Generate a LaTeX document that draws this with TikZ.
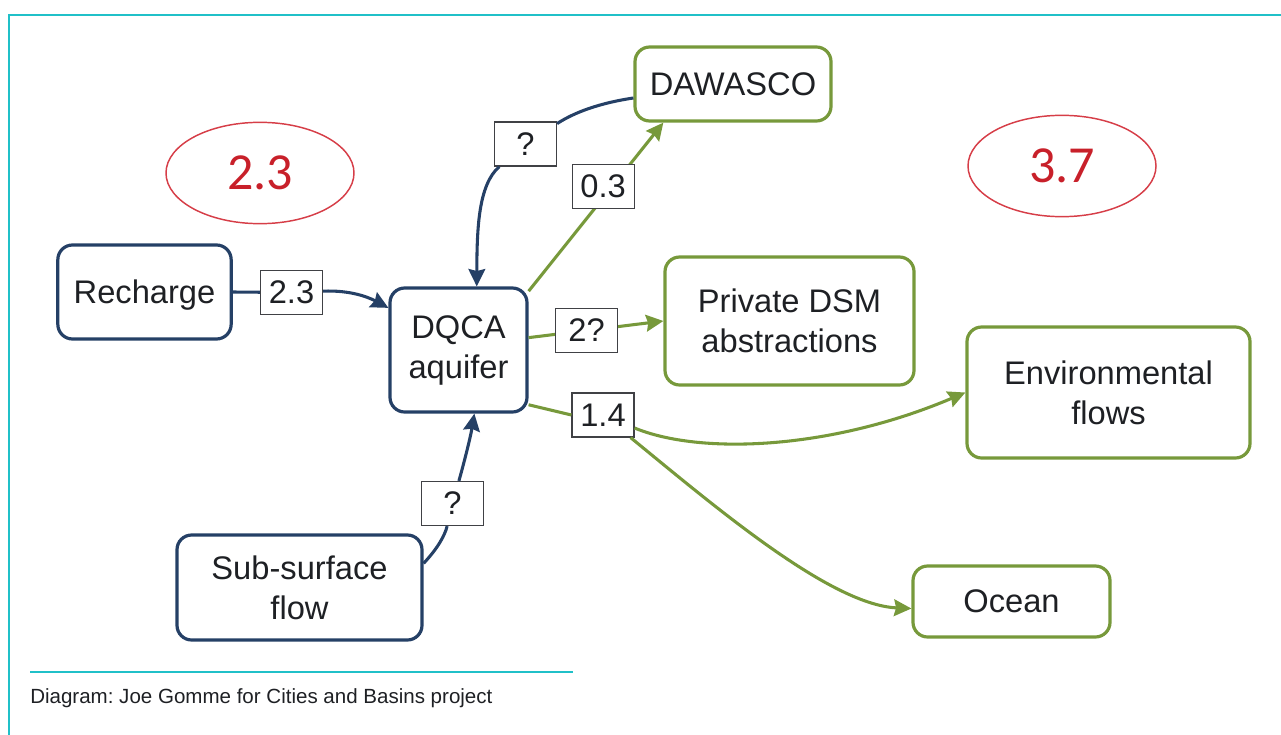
\documentclass[tikz,border=0pt]{standalone}
\usepackage{fontspec}
\setmainfont{Liberation Sans}
\newfontfamily\calibfont{Carlito}
\usetikzlibrary{shapes.geometric,arrows.meta}
\definecolor{navyline}{RGB}{37,64,102}
\definecolor{greenline}{RGB}{119,153,59}
\definecolor{redtext}{RGB}{200,32,42}
\definecolor{redring}{RGB}{214,62,72}
\definecolor{frameteal}{RGB}{32,192,200}
\definecolor{textgray}{RGB}{30,32,36}
\frenchspacing

\begin{document}
\begin{tikzpicture}[x=0.75pt,y=0.75pt,yscale=-1,
  flowbox/.style={draw,rounded corners=11pt,line width=2.4pt,align=center,text=textgray,font=\fontsize{24.5}{30}\selectfont,inner sep=0pt},
  navybox/.style={flowbox,draw=navyline},
  greenbox/.style={flowbox,draw=greenline},
  valbox/.style={draw=textgray!85,line width=0.9pt,fill=white,text=textgray,font=\fontsize{24.5}{30}\selectfont,minimum width=46.5pt,minimum height=33pt,inner sep=0pt},
  navyflow/.style={draw=navyline,line width=2.3pt},
  greenflow/.style={draw=greenline,line width=2.3pt},
  flowtip/.style={-{Stealth[length=13pt,width=12.5pt,inset=1.5pt]}},
  total/.style={ellipse,draw=redring,line width=1.1pt,text=redtext,font=\calibfont\fontsize{39}{44}\selectfont,minimum width=141pt,minimum height=76pt,inner sep=0pt}]
\useasboundingbox (0,0) rectangle (1281,735);

%Frame
\draw [frameteal,line width=1.5pt] (9,735) -- (9,15) -- (1281,15) ;

% Boxes
\node[navybox,text depth=0pt,minimum width=130pt,minimum height=70.5pt] (rech) at (144.5,292) {Recharge};
\node[navybox,minimum width=102.75pt,minimum height=93pt] (dqca) at (458.5,350) {DQCA\\aquifer};
\node[navybox,minimum width=183.75pt,minimum height=78.75pt] (sub) at (299.5,587.5) {Sub-surface\\flow};
\node[greenbox,minimum width=147pt,minimum height=55.5pt] (daw) at (733,84) {DAWASCO};
\node[greenbox,minimum width=186.75pt,minimum height=96pt] (priv) at (789.5,321) {Private DSM\\abstractions};
\node[greenbox,minimum width=212.25pt,minimum height=98.25pt] (env) at (1108.5,392.5) {Environmental\\flows};
\node[greenbox,minimum width=147.75pt,minimum height=53.25pt] (ocean) at (1011.5,601.5) {Ocean};

% Totals
\node[total] (tot23) at (260,173) {2.3};
\node[total] (tot37) at (1062,166) {3.7};

% Value labels
\node[valbox] (l23) at (291.5,292.5) {2.3};
\node[valbox] (lq1) at (525.5,144) {?};
\node[valbox] (l14) at (603,415) {1.4};
\node[valbox] (lq2) at (452.5,503.5) {?};

%Inflows
\draw [navyflow] (rech.east) -- (l23) ;
\draw [navyflow,flowtip] (l23) .. controls (350,290) and (368,297) .. (dqca.149) ;
\draw [navyflow] (daw.-172.5) .. controls (600,103) and (575,112) .. (lq1) ;
\draw [navyflow,flowtip] (lq1) .. controls (478,185) and (477,230) .. (dqca.74) ;
\draw [navyflow] (sub.11) .. controls (438,548) and (445,535) .. (lq2) ;
\draw [navyflow,flowtip] (lq2) .. controls (462,470) and (470,440) .. (dqca.-76) ;

%Outflows
\draw [greenflow,flowtip] (dqca.40) -- node[valbox,pos=0.62,xshift=-6.75pt] (l03) {0.3} (daw.-151) ;
\draw [greenflow,flowtip] (dqca.10) -- node[valbox,pos=0.43] (l2q) {2?} (priv.west) ;
\draw [greenflow] (dqca.-38) -- (l14.west) ;
\draw [greenflow,flowtip] (l14) .. controls (700,455) and (830,450) .. (env.west) ;
\draw [greenflow,flowtip] (l14) .. controls (713,505) and (830,605) .. (ocean.-176) ;

% Caption
\draw [frameteal,line width=1.1pt] (30,672) -- (573,672) ;
\node[anchor=base west,inner sep=0pt,text=textgray,font=\fontsize{15.4}{18}\selectfont] (cap) at (30,703) {Diagram: Joe Gomme for Cities and Basins project};

\end{tikzpicture}
\end{document}
